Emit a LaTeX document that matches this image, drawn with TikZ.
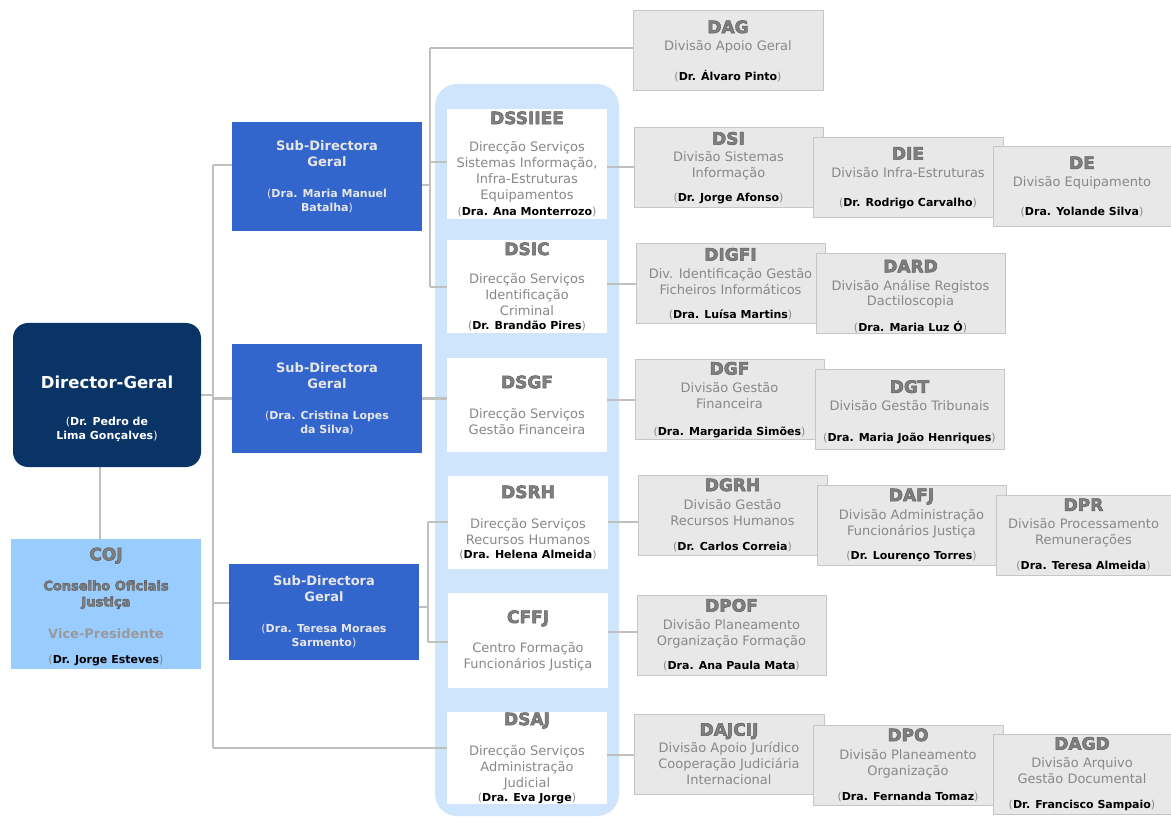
\documentclass[tikz,border=0pt]{standalone}
\usepackage{fontspec}
\setmainfont{DejaVu Sans}
\usetikzlibrary{backgrounds}
\definecolor{dgblue}{HTML}{0A3465}
\definecolor{sdblue}{HTML}{3366CC}
\definecolor{cojblue}{HTML}{99CCFF}
\definecolor{bandblue}{HTML}{CFE5FC}
\definecolor{grayfill}{HTML}{E8E8E8}
\definecolor{grayline}{HTML}{C6C6C6}
\definecolor{conncol}{HTML}{C0C0C0}
\definecolor{titlegray}{HTML}{808080}
\definecolor{descgray}{HTML}{888888}
\definecolor{vpgray}{HTML}{9A9A9A}
\definecolor{sdtext}{HTML}{E6E6E6}
\newcommand\outl[1]{\special{pdf:code 2 Tr 0.5 w 0.36 0.36 0.36 RG}#1\special{pdf:code 0 Tr}}
\newcommand\ttl[1]{{\fontsize{17}{16}\selectfont\bfseries\color{titlegray}\outl{#1}}}
\newcommand\nm[1]{{\fontsize{11}{14}\selectfont(\textbf{\textcolor{black}{#1}})}}
\newcommand\nmo[1]{{\fontsize{11}{14}\selectfont(\textbf{#1}}}
\newcommand\nmc[1]{{\fontsize{11}{14}\selectfont\textbf{#1})}}
\newcommand\bfl[1]{{\bfseries #1}}
\newcommand\ob[7]{\node[#1, minimum width={(#5-#3)*1pt}, minimum height={(#6-#4)*1pt}] (#2) at ({(#3+#5)/2},{(#4+#6)/2}) {#7};}
\tikzset{
  basebox/.style={rectangle, inner sep=0pt, outer sep=0pt, align=center, font=\fontsize{13}{16}\selectfont},
  dgbox/.style={basebox, fill=dgblue, rounded corners=15pt, text=white},
  sdbox/.style={basebox, fill=sdblue, text=sdtext},
  cojbox/.style={basebox, fill=cojblue, text=titlegray},
  wbox/.style={basebox, fill=white, text=descgray},
  gbox/.style={basebox, fill=grayfill, draw=grayline, line width=1pt, text=descgray},
  conn/.style={draw=conncol, line width=2.6pt},
}
\begin{document}
\begin{tikzpicture}[x=1pt,y=-1pt]
\useasboundingbox (0,0) rectangle (1171,818);
% left column
\ob{dgbox}{dg}{13}{323}{201}{467}{\rule{0pt}{40pt}{\fontsize{16.5}{16}\selectfont\bfseries Director-Geral}\\[21pt]\nmo{Dr. Pedro de}\\[-2pt]\nmc{Lima Gonçalves}}
\ob{cojbox}{coj}{11}{539}{201}{669}{\rule{0pt}{18pt}\ttl{COJ}\\[14pt]{\bfseries\outl{Conselho Oficiais}}\\ {\bfseries\outl{Justiça}}\\[16pt]{\bfseries\color{vpgray}Vice-Presidente}\\[9pt]\nm{Dr. Jorge Esteves}}
% sub-directors
\ob{sdbox}{sd1}{232}{122}{422}{231}{\bfl{Sub-Directora}\\ \bfl{Geral}\\[15pt]\nmo{Dra. Maria Manuel}\\[-2pt]\nmc{Batalha}}
\ob{sdbox}{sd2}{232}{344}{422}{453}{\bfl{Sub-Directora}\\ \bfl{Geral}\\[15pt]\nmo{Dra. Cristina Lopes}\\[-2pt]\nmc{da Silva}}
\ob{sdbox}{sd3}{229}{564}{419}{660}{\bfl{Sub-Directora}\\ \bfl{Geral}\\[15pt]\nmo{Dra. Teresa Moraes}\\[-2pt]\nmc{Sarmento}}
% services (white)
\ob{wbox}{dssiiee}{447}{109}{607}{219}{\ttl{DSSIIEE}\\[11pt]Direcção Serviços\\ Sistemas Informação,\\ Infra-Estruturas\\ Equipamentos\\ \nm{Dra. Ana Monterrozo}}
\ob{wbox}{dsic}{447}{240}{607}{333}{\ttl{DSIC}\\[12pt]Direcção Serviços\\ Identificação\\ Criminal\\[-2pt] \nm{Dr. Brandão Pires}}
\ob{wbox}{dsgf}{447}{358}{607}{452}{\ttl{DSGF}\\[14pt]Direcção Serviços\\ Gestão Financeira}
\ob{wbox}{dsrh}{448}{476}{608}{569}{\ttl{DSRH}\\[14pt]Direcção Serviços\\ Recursos Humanos\\[-2pt] \nm{Dra. Helena Almeida}}
\ob{wbox}{cffj}{448}{593}{608}{688}{\ttl{CFFJ}\\[13pt]Centro Formação\\ Funcionários Justiça}
\ob{wbox}{dsaj}{447}{712}{607}{804}{\ttl{DSAJ}\\[14pt]Direcção Serviços\\ Administração\\ Judicial\\[-2pt] \nm{Dra. Eva Jorge}}
% divisions (gray)
\ob{gbox}{dag}{633}{11}{823}{91}{\ttl{DAG}\\[1pt]Divisão Apoio Geral\\[14pt]\nm{Dr. Álvaro Pinto}}
\ob{gbox}{dsi}{634}{128}{823}{208}{\ttl{DSI}\\[1pt]Divisão Sistemas\\ Informação\\[8pt]\nm{Dr. Jorge Afonso}}
\ob{gbox}{die}{813}{138}{1003}{218}{\ttl{DIE}\\[2pt]Divisão Infra-Estruturas\\[13pt]\nm{Dr. Rodrigo Carvalho}}
\ob{gbox}{de}{993}{147}{1171}{227}{\ttl{DE}\\[2pt]Divisão Equipamento\\[13pt]\nm{Dra. Yolande Silva}}
\ob{gbox}{digfi}{636}{244}{825}{324}{\ttl{DIGFI}\\[2pt]Div. Identificação Gestão\\ Ficheiros Informáticos\\[8pt]\nm{Dra. Luísa Martins}}
\ob{gbox}{dard}{816}{254}{1005}{334}{\rule{0pt}{17pt}\ttl{DARD}\\[2pt]Divisão Análise Registos\\[-1pt] Dactiloscopia\\[10pt]\nm{Dra. Maria Luz Ó}}
\ob{gbox}{dgf}{635}{360}{824}{440}{\ttl{DGF}\\[2pt]Divisão Gestão\\ Financeira\\[11pt]\nm{Dra. Margarida Simões}}
\ob{gbox}{dgt}{815}{370}{1004}{450}{\rule{0pt}{17pt}\ttl{DGT}\\[2pt]Divisão Gestão Tribunais\\[15pt]\nm{Dra. Maria João Henriques}}
\ob{gbox}{dgrh}{638}{475}{827}{555}{\ttl{DGRH}\\[2pt]Divisão Gestão\\ Recursos Humanos\\[9pt]\nm{Dr. Carlos Correia}}
\ob{gbox}{dafj}{817}{485}{1006}{565}{\ttl{DAFJ}\\[2pt]Divisão Administração\\ Funcionários Justiça\\[8pt]\nm{Dr. Lourenço Torres}}
\ob{gbox}{dpr}{996}{495}{1171}{575}{\ttl{DPR}\\[2pt]Divisão Processamento\\ Remunerações\\[9pt]\nm{Dra. Teresa Almeida}}
\ob{gbox}{dpof}{637}{595}{826}{675}{\ttl{DPOF}\\[2pt]Divisão Planeamento\\ Organização Formação\\[8pt]\nm{Dra. Ana Paula Mata}}
\ob{gbox}{dajcij}{634}{714}{824}{794}{\ttl{DAJCIJ}\\[1pt]Divisão Apoio Jurídico\\ Cooperação Judiciária\\ Internacional}
\ob{gbox}{dpo}{813}{725}{1003}{805}{\ttl{DPO}\\[2pt]Divisão Planeamento\\ Organização\\[9pt]\nm{Dra. Fernanda Tomaz}}
\ob{gbox}{dagd}{993}{734}{1171}{814}{\ttl{DAGD}\\[2pt]Divisão Arquivo\\ Gestão Documental\\[9pt]\nm{Dr. Francisco Sampaio}}
% junction points
\coordinate (tA) at (213,165);
\coordinate (tC) at (213,603);
\coordinate (tB) at (213,748);
\coordinate (uA) at (430,48);
\coordinate (uD) at (430,162);
\coordinate (uS) at (430,185);
\coordinate (uB) at (430,287);
\coordinate (vA) at (428,522);
\coordinate (vS) at (428,607);
\coordinate (vB) at (428,642);
\coordinate (w1) at (620,167);
\coordinate (w2) at (620,284);
\coordinate (w3) at (620,400);
\coordinate (w4) at (620,522);
\coordinate (w5) at (620,632);
\coordinate (w6) at (620,755);
\coordinate (cj) at (100,0);
\begin{scope}[on background layer]
\fill[bandblue, rounded corners=22pt] (435,84) rectangle (619,816);
\draw[conn] (tA) -- (tB);
\draw[conn] (tA) -- (tA -| sd1.west);
\draw[conn] (dg.east) -- (dg.east -| tA);
\draw[conn] (sd2.west) -- (sd2.west -| tA);
\draw[conn] (tC) -- (tC -| sd3.west);
\draw[conn] (tB) -- (tB -| dsaj.west);
\draw[conn] (cj |- dg.south) -- (cj |- coj.north);
\draw[conn] (uA) -- (uB);
\draw[conn] (uA) -- (uA -| dag.west);
\draw[conn] (uS -| sd1.east) -- (uS);
\draw[conn] (uD) -- (uD -| dssiiee.west);
\draw[conn] (uB) -- (uB -| dsic.west);
\draw[conn] (sd2.east) -- (sd2.east -| dsgf.west);
\draw[conn] (vA) -- (vB);
\draw[conn] (vS -| sd3.east) -- (vS);
\draw[conn] (vA) -- (vA -| dsrh.west);
\draw[conn] (vB) -- (vB -| cffj.west);
\draw[conn] (w1 -| dssiiee.east) -- (w1 -| dsi.west);
\draw[conn] (w2 -| dsic.east) -- (w2 -| digfi.west);
\draw[conn] (w3 -| dsgf.east) -- (w3 -| dgf.west);
\draw[conn] (w4 -| dsrh.east) -- (w4 -| dgrh.west);
\draw[conn] (w5 -| cffj.east) -- (w5 -| dpof.west);
\draw[conn] (w6 -| dsaj.east) -- (w6 -| dajcij.west);
\end{scope}
\end{tikzpicture}
\end{document}
